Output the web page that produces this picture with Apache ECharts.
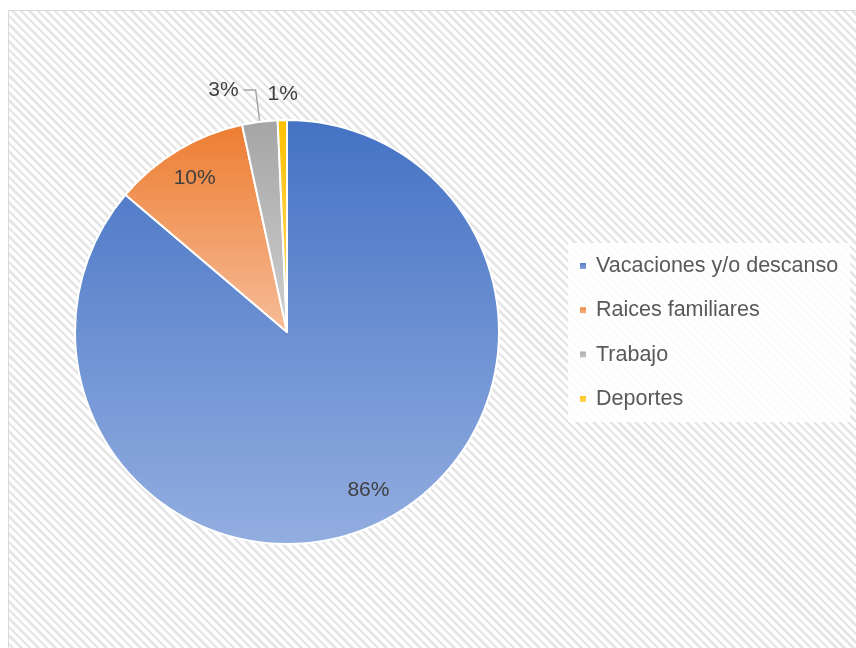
<!DOCTYPE html>
<html>
<head>
<meta charset="utf-8">
<script src="https://cdn.jsdelivr.net/npm/echarts@6/dist/echarts.min.js"></script>
<style>
html,body{margin:0;padding:0;background:#fff;width:856px;height:648px;overflow:hidden;}
#frame{position:absolute;left:8px;top:10px;width:860px;height:650px;border:1px solid #d9d9d9;box-sizing:border-box;
background:repeating-linear-gradient(45deg,#ffffff 0px,#ffffff 3.5px,#e6e6e6 3.5px,#e6e6e6 6px);}
#chart{position:absolute;left:0;top:0;width:856px;height:648px;}
</style>
</head>
<body>
<div id="frame"></div>
<div id="chart"></div>
<script>
const categories = ['Vacaciones y/o descanso', 'Raices familiares', 'Trabajo', 'Deportes'];
const values = [86.2, 10.4, 2.7, 0.7];
const topColors = ['#4472C4', '#ED7D31', '#A5A5A5', '#FFC000'];
const bottomColors = ['#93AEE0', '#F6BC98', '#CFCFCF', '#FFDB70'];

function grad(i){
  return new echarts.graphic.LinearGradient(0,0,0,1,[{offset:0,color:topColors[i]},{offset:1,color:bottomColors[i]}]);
}
const font = 'Liberation Sans, Arial, sans-serif';
const chart = echarts.init(document.getElementById('chart'));
const mainData = categories.map((c,i)=>({
  name:c, value:values[i],
  itemStyle:{color:grad(i)},
  label: i>=2 ? {show:true} : {show:false},
  labelLine: i===2 ? {show:true, length:32, length2:12}
           : (i===3 ? {show:true, length:26, length2:0, lineStyle:{opacity:0}} : {show:false})
}));
const overlayData = categories.map((c,i)=>({
  name:c, value:values[i],
  label: i<2 ? {show:true} : {show:false}
}));
chart.setOption({
  animation:false,
  legend:{
    orient:'vertical', left:568, top:243,
    padding:[12,12,12,10],
    backgroundColor:'rgba(255,255,255,0.85)',
    itemWidth:8, itemHeight:8, itemGap:22.3,
    icon:'rect',
    textStyle:{fontFamily:font, fontSize:21.5, color:'#595959', lineHeight:22, padding:[0,0,0,4]},
    data:categories
  },
  series:[{
    type:'pie', center:[287,332], radius:212, startAngle:90, clockwise:true,
    percentPrecision:0,
    avoidLabelOverlap:false,
    itemStyle:{borderColor:'#fff', borderWidth:2},
    label:{position:'outside', formatter:'{d}%', fontFamily:font, fontSize:21, color:'#404040'},
    labelLine:{lineStyle:{color:'#a6a6a6', width:1.5}},
    labelLayout:function(p){
      if (p.dataIndex===3) return {align:'center', dx:6, hideOverlap:false};
      return {hideOverlap:false};
    },
    emphasis:{disabled:true},
    data:mainData
  },{
    type:'pie', center:[287,332], radius:[141,212], startAngle:90, clockwise:true,
    percentPrecision:0,
    silent:true,
    itemStyle:{color:'rgba(0,0,0,0)'},
    label:{position:'inside', formatter:'{d}%', fontFamily:font, fontSize:21, color:'#404040'},
    labelLine:{show:false},
    labelLayout:function(p){
      if (p.dataIndex===0) return {dx:6, dy:-5};
      return {};
    },
    emphasis:{disabled:true},
    data:overlayData
  }]
});
</script>
</body>
</html>
